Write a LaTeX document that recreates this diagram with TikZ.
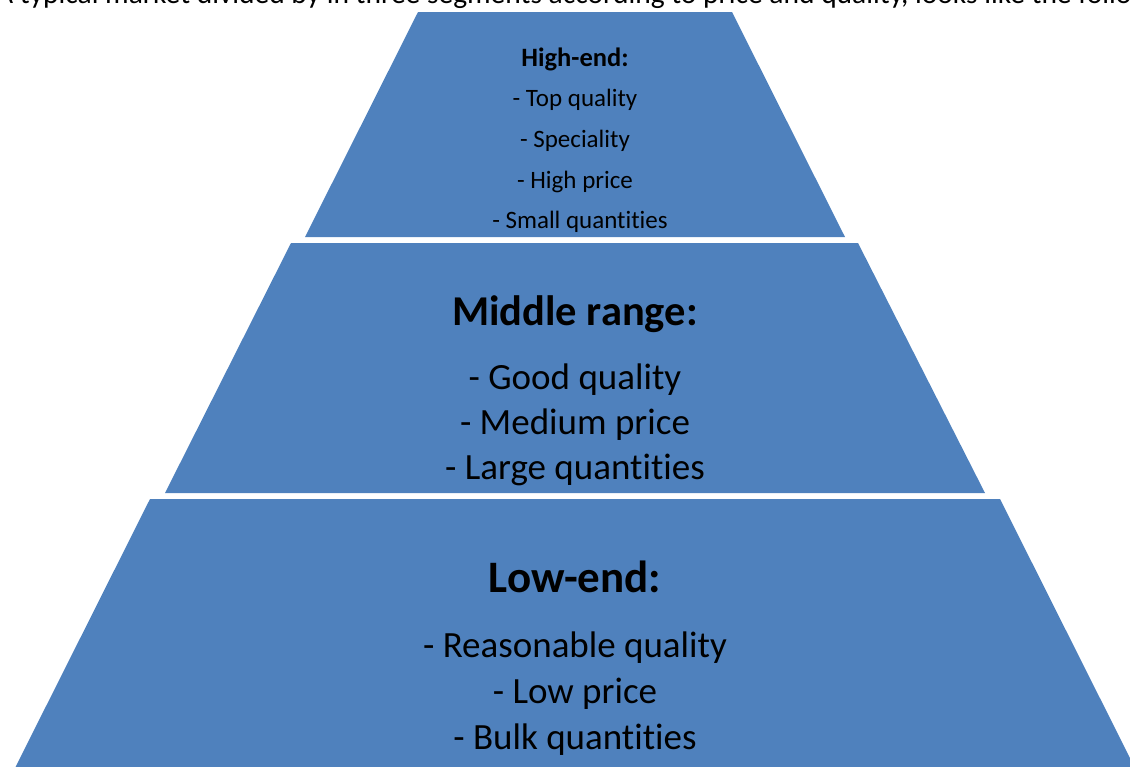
\documentclass[tikz,border=0pt]{standalone}
\usepackage{fontspec}
\setmainfont[Ligatures=NoCommon]{Carlito}
\definecolor{segblue}{HTML}{4F81BD}
\tikzset{
  seg/.style={fill=segblue, draw=none},
  tb/.style={anchor=base, inner sep=0pt, text=black},
  smalltxt/.style={tb, font=\fontsize{25}{30}\selectfont},
  bigtxt/.style={tb, font=\fontsize{37}{44}\selectfont},
  bigtitle/.style={tb, font=\fontsize{42.5}{50}\selectfont\bfseries},
  smalltitle/.style={tb, font=\fontsize{26.5}{30}\selectfont\bfseries},
}
\begin{document}
\begin{tikzpicture}[x=1pt,y=-1pt]
\useasboundingbox (0,0) rectangle (1130,766);
\clip (0,0) rectangle (1130,766);
% intro line (cut off at top)
\node[tb, anchor=base west, font=\fontsize{29.5}{34}\selectfont] (intro) at (-4,3) {A typical market divided by in three segments according to price and quality, looks like the following:};
% segments
\fill[seg] (418,12) -- (732,12) -- (845,237) -- (305,237) -- cycle;
\fill[seg] (291,243) -- (858,243) -- (985,493) -- (165,493) -- cycle;
\fill[seg] (150,499) -- (1000,499) -- (1136,770) -- (14,770) -- cycle;
% top texts
\node[smalltitle] (h0) at (575,66) {High-end:};
\node[smalltxt] (h1) at (575,106) {- Top quality};
\node[smalltxt] (h2) at (575,147) {- Speciality};
\node[smalltxt] (h3) at (575,188) {- High price};
\node[smalltxt] (h4) at (580,228) {- Small quantities};
% middle texts
\node[bigtitle] (m0) at (575,325) {Middle range:};
\node[bigtxt] (m1) at (575,389) {- Good quality};
\node[bigtxt] (m2) at (575,434) {- Medium price};
\node[bigtxt] (m3) at (575,479) {- Large quantities};
% bottom texts
\node[bigtitle, font=\fontsize{45}{52}\selectfont\bfseries] (l0) at (575,592) {Low-end:};
\node[bigtxt] (l1) at (575,657) {- Reasonable quality};
\node[bigtxt] (l2) at (575,703) {- Low price};
\node[bigtxt] (l3) at (575,749) {- Bulk quantities};
\end{tikzpicture}
\end{document}
